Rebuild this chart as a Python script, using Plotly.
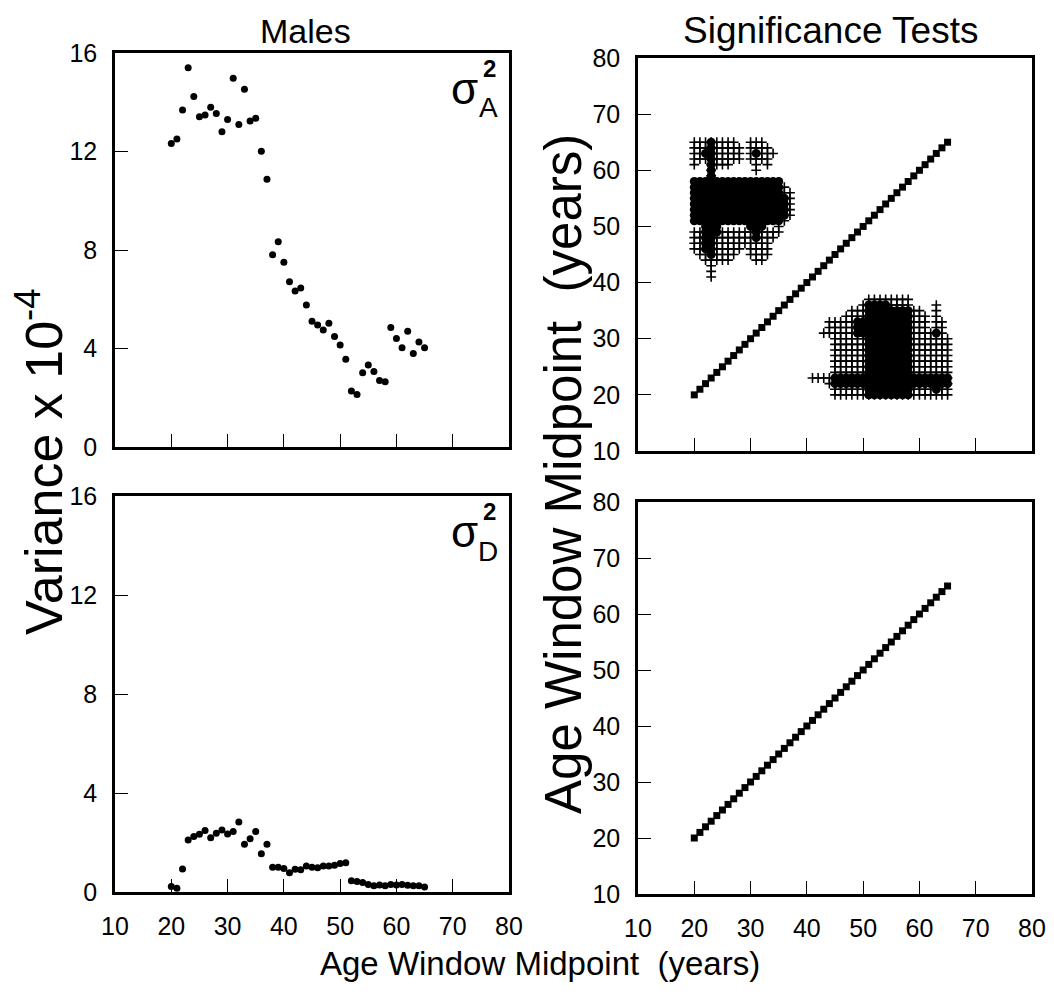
import plotly.graph_objects as go

# the page keeps an 8 px body margin, so the figure is drawn inside it
PAD = 8
W, H = 1054 - 2 * PAD, 999 - 2 * PAD

# age window midpoints (years)
age_windows = list(range(20, 66))

# males, additive genetic variance (x 10^-4)
sigma_a = [12.32, 12.51, 13.69, 15.40, 14.23, 13.41, 13.48, 13.80, 13.54, 12.80,
           13.30, 14.97, 13.10, 14.53, 13.24, 13.35, 12.01, 10.87, 7.81, 8.33,
           7.50, 6.71, 6.33, 6.46, 5.77, 5.11, 4.95, 4.75, 5.03, 4.49,
           4.14, 3.56, 2.27, 2.13, 3.02, 3.33, 3.07, 2.70, 2.65, 4.85,
           4.41, 4.03, 4.70, 3.80, 4.26, 4.03]

# males, dominance variance (x 10^-4)
sigma_d = [0.22, 0.15, 0.93, 2.10, 2.24, 2.33, 2.48, 2.19, 2.37, 2.51,
           2.34, 2.44, 2.83, 1.93, 2.15, 2.44, 1.55, 1.93, 1.00, 1.00,
           0.95, 0.78, 0.92, 0.90, 1.05, 1.00, 0.98, 1.05, 1.05, 1.08,
           1.15, 1.18, 0.45, 0.42, 0.38, 0.30, 0.25, 0.28, 0.25, 0.30,
           0.28, 0.30, 0.27, 0.25, 0.25, 0.20]

# significance of sigma_A differences: (window, first, last) runs
plus_a = [(20, 46, 49), (20, 61, 65), (21, 45, 49), (21, 62, 65), (22, 44, 49), (22, 62, 65),
          (23, 41, 49), (23, 59, 65), (24, 44, 49), (24, 61, 65), (25, 44, 49), (25, 61, 65),
          (26, 44, 49), (26, 61, 65), (27, 45, 49), (27, 62, 65), (28, 46, 49), (28, 62, 64),
          (29, 47, 49), (30, 45, 49), (30, 62, 65), (31, 44, 49), (31, 60, 65),
          (32, 44, 49), (32, 62, 65), (33, 45, 49), (33, 61, 64), (34, 48, 49), (34, 63, 63),
          (35, 49, 50), (36, 51, 57), (37, 52, 56),
          (41, 23, 23), (42, 23, 23), (43, 23, 23), (43, 31, 31), (44, 22, 23), (44, 31, 33),
          (45, 20, 33), (46, 20, 33), (47, 20, 34), (48, 20, 35), (49, 20, 35), (50, 20, 36),
          (51, 20, 37), (52, 20, 37), (53, 20, 37), (54, 20, 37), (55, 20, 37), (56, 20, 37),
          (57, 20, 37), (58, 20, 37), (59, 20, 35), (60, 20, 35), (61, 20, 34), (62, 20, 31),
          (63, 20, 36), (64, 20, 33), (65, 20, 30)]
solid_a = [(20, 51, 58), (21, 51, 58), (22, 46, 58), (22, 63, 63), (23, 45, 65), (24, 49, 58),
           (25, 51, 58), (26, 51, 58), (27, 51, 58), (28, 51, 58), (29, 51, 58), (30, 50, 58),
           (31, 48, 58), (31, 63, 63), (32, 50, 58), (33, 51, 58), (34, 51, 58), (35, 51, 58),
           (36, 52, 55),
           (45, 22, 23), (46, 22, 23), (47, 22, 23), (48, 22, 23), (49, 22, 23), (49, 31, 33),
           (50, 22, 23), (50, 31, 33), (51, 20, 36), (52, 20, 36), (53, 20, 36), (54, 20, 36),
           (55, 20, 35), (56, 20, 35), (57, 20, 35), (58, 20, 35), (59, 22, 23), (60, 22, 23),
           (61, 22, 23), (62, 22, 23), (63, 21, 23), (63, 31, 31), (64, 22, 23), (65, 22, 23)]

x_ticks = [10, 20, 30, 40, 50, 60, 70, 80]
var_ticks = [0, 4, 8, 12, 16]


def expand(runs):
    xs, ys = [], []
    for x, lo, hi in runs:
        for y in range(lo, hi + 1):
            xs.append(x)
            ys.append(y)
    return xs, ys


def fx(px):
    return (px - PAD) / W


def fy(py):
    return 1 - (py - PAD) / H


fig = go.Figure()

dot = dict(color='black', size=7)
fig.add_trace(go.Scatter(x=age_windows, y=sigma_a, mode='markers', marker=dot,
                         xaxis='x', yaxis='y', showlegend=False))
fig.add_trace(go.Scatter(x=age_windows, y=sigma_d, mode='markers', marker=dot,
                         xaxis='x3', yaxis='y3', showlegend=False))

px_, py_ = expand(plus_a)
fig.add_trace(go.Scatter(x=px_, y=py_, mode='markers',
                         marker=dict(symbol='cross-thin', size=7, color='black',
                                     line=dict(color='black', width=1.6)),
                         xaxis='x2', yaxis='y2', showlegend=False))
sx_, sy_ = expand(solid_a)
fig.add_trace(go.Scatter(x=sx_, y=sy_, mode='markers',
                         marker=dict(symbol='circle', size=9, color='black'),
                         xaxis='x2', yaxis='y2', showlegend=False))

sq = dict(symbol='square', size=7, color='black')
fig.add_trace(go.Scatter(x=age_windows, y=age_windows, mode='markers', marker=sq,
                         xaxis='x2', yaxis='y2', showlegend=False))
fig.add_trace(go.Scatter(x=age_windows, y=age_windows, mode='markers', marker=sq,
                         xaxis='x4', yaxis='y4', showlegend=False))

font = dict(family='Arial, Liberation Sans, sans-serif', color='black')
ax = dict(showline=True, mirror=True, linecolor='black', linewidth=2.5,
          ticks='inside', ticklen=13, tickwidth=1.3, tickcolor='black',
          showgrid=False, zeroline=False, tickfont=dict(size=25, **font),
          ticklabelstandoff=10, automargin=False)

L = [fx(115), fx(509)]
R = [fx(638), fx(1032)]

fig.update_layout(
    width=W, height=H,
    margin=dict(l=0, r=0, t=0, b=0),
    paper_bgcolor='white', plot_bgcolor='white',
    font=font,
    xaxis=dict(ax, domain=L, range=[10, 80], tickvals=x_ticks, showticklabels=False,
               anchor='y'),
    yaxis=dict(ax, domain=[fy(447), fy(53)], range=[0, 16], tickvals=var_ticks,
               anchor='x'),
    xaxis2=dict(ax, domain=R, range=[10, 80], tickvals=x_ticks, showticklabels=False,
                anchor='y2'),
    yaxis2=dict(ax, domain=[fy(451), fy(58)], range=[10, 80], tickvals=x_ticks,
                anchor='x2'),
    xaxis3=dict(ax, domain=L, range=[10, 80], tickvals=x_ticks, anchor='y3'),
    yaxis3=dict(ax, domain=[fy(892), fy(496)], range=[0, 16], tickvals=var_ticks,
                anchor='x3'),
    xaxis4=dict(ax, domain=R, range=[10, 80], tickvals=x_ticks, anchor='y4'),
    yaxis4=dict(ax, domain=[fy(894), fy(502)], range=[10, 80], tickvals=x_ticks,
                anchor='x4'),
)


def label(text, x, y, size, angle=0):
    fig.add_annotation(text=text, x=fx(x), y=fy(y), xref='paper', yref='paper',
                       showarrow=False, textangle=angle, font=dict(size=size, **font),
                       xanchor='center', yanchor='middle')


label('Males', 305, 31, 34)
label('Significance Tests', 830, 31, 37)
label('Age Window Midpoint \u00a0(years)', 540, 963, 33)
label('Variance x 10<sup>-4</sup>', 40, 462, 52, -90)
label('Age Window Midpoint \u00a0(years)', 563, 474, 51, -90)

# sigma squared labels
label('σ', 464, 88, 44)
label('<b>2</b>', 489, 68, 24)
label('A', 488, 108, 28)
label('σ', 464, 531, 44)
label('<b>2</b>', 489, 511, 24)
label('D', 488, 551, 28)

fig.write_html('out.html')
